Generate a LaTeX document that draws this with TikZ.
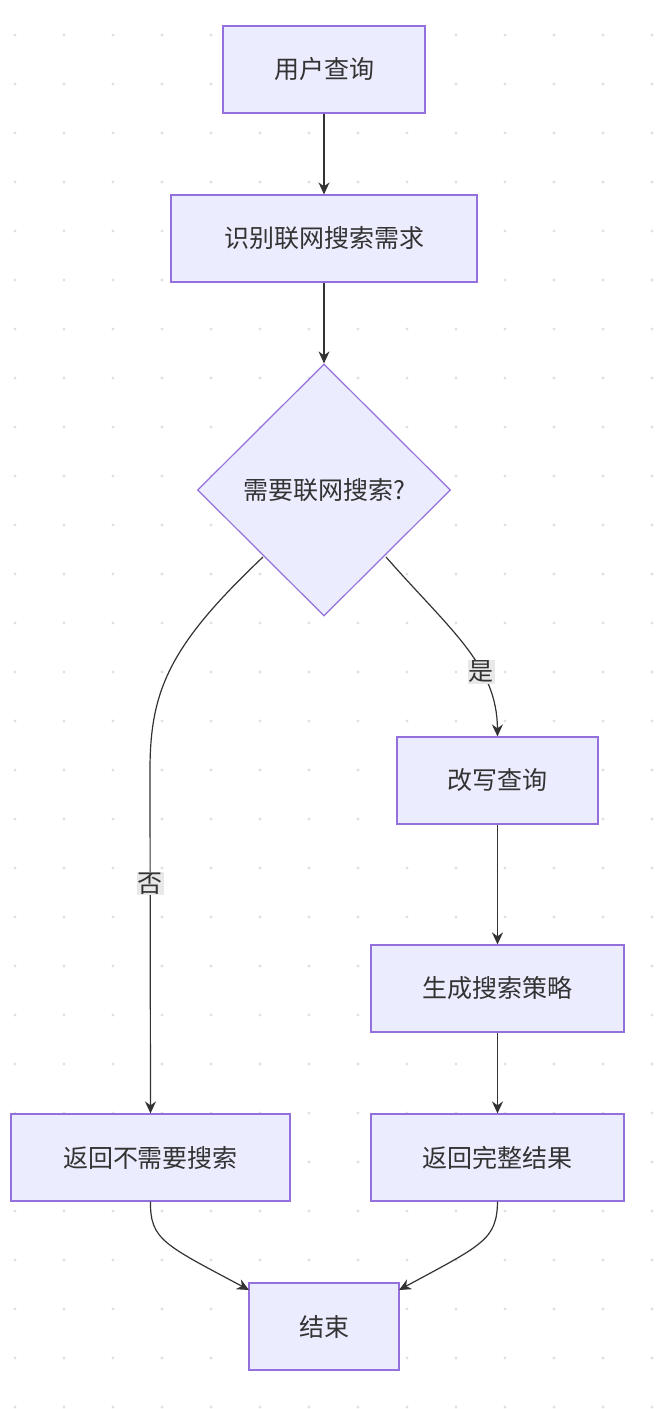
\documentclass[tikz,border=0pt]{standalone}
\usepackage{fontspec}
\setmainfont{Noto Sans CJK SC}
\usetikzlibrary{shapes.geometric,arrows.meta}
\definecolor{nfill}{HTML}{ECECFF}
\definecolor{nline}{HTML}{9370DB}
\definecolor{txt}{HTML}{333333}
\definecolor{lbl}{HTML}{E8E8E8}
\begin{document}
\begin{tikzpicture}[x=1pt,y=-1pt,
  box/.style={draw=nline,fill=nfill,line width=1.2pt,text=txt,font=\fontsize{25}{28}\selectfont,minimum height=87pt,inner sep=0pt},
  dia/.style={diamond,draw=nline,fill=nfill,line width=1.2pt,text=txt,font=\fontsize{25}{28}\selectfont,minimum width=253pt,minimum height=252pt,inner sep=0pt},
  arr/.style={draw=txt,line width=1.2pt,-{Stealth[length=12pt,width=11pt]}},
  elab/.style={fill=lbl,text=txt,font=\fontsize{25}{28}\selectfont,inner sep=1pt}]
\useasboundingbox (0,0) rectangle (661,1409);
\fill[white] (0,0) rectangle (661,1409);
\foreach \i in {0,...,13}{\foreach \j in {0,...,28}{\fill[black!12] (15+49*\i,35+49*\j) circle (1.6pt);}}
\node[box,minimum width=202pt] (a) at (324,69.5) {用户查询};
\node[box,minimum width=306pt] (b) at (324,238.5) {识别联网搜索需求};
\node[dia] (c) at (324,490) {需要联网搜索?};
\node[box,minimum width=201pt] (d) at (497.5,780.5) {改写查询};
\node[box,minimum width=253pt] (e) at (497.5,988.5) {生成搜索策略};
\node[box,minimum width=253pt] (f) at (497.5,1157.5) {返回完整结果};
\node[box,minimum width=279pt] (g) at (150.5,1157.5) {返回不需要搜索};
\node[box,minimum width=150pt] (h) at (324,1326.5) {结束};
\coordinate (cl) at (263,557);
\coordinate (cr) at (386,557);
\draw[arr] (a) -- (b);
\draw[arr] (b) -- (c);
\draw[arr] (cl) .. controls (170,645) and (150,690) .. (150,770) -- node[elab,pos=0.33]{否} (g.north);
\draw[arr] (cr) .. controls (450,630) and (497,665) .. node[elab,pos=0.65]{是} (d.north);
\draw[arr] (d) -- (e);
\draw[arr] (e) -- (f);
\draw[arr] (g.south) .. controls (150,1240) and (165,1245) .. (249,1290);
\draw[arr] (f.south) .. controls (497,1240) and (482,1245) .. (399,1290);
\end{tikzpicture}
\end{document}
